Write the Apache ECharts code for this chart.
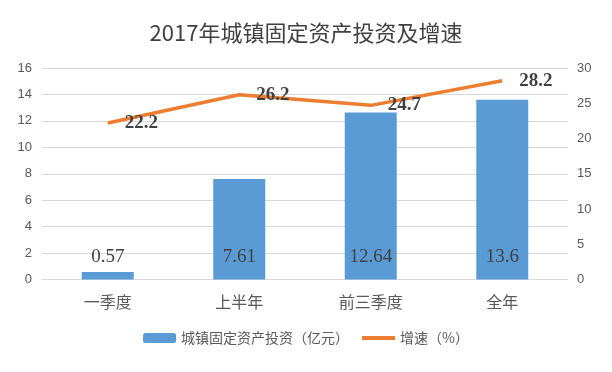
<!DOCTYPE html>
<html>
<head>
<meta charset="utf-8">
<script src="https://cdn.jsdelivr.net/npm/echarts@6/dist/echarts.min.js"></script>
<style>html,body{margin:0;padding:0;background:#fff}#c{width:612px;height:372px}</style>
</head>
<body>
<div id="c"></div>
<script>
const categories = ['一季度', '上半年', '前三季度', '全年'];
const investment = [0.57, 7.61, 12.64, 13.6];
const growth = [22.2, 26.2, 24.7, 28.2];
const leftTicks = [0, 16, 2];
const rightTicks = [0, 30, 5];
const seriesNames = ['城镇固定资产投资（亿元）', '增速（%）'];

const chart = echarts.init(document.getElementById('c'), null, {renderer: 'canvas'});
const axisText = {color: '#595959', fontFamily: 'Liberation Sans, Arial, sans-serif'};
chart.setOption({
  animation: false,
  backgroundColor: '#fff',
  title: {
    text: '2017年城镇固定资产投资及增速',
    left: 'center', top: 17,
    textStyle: {fontSize: 22, fontWeight: 'normal', color: '#404040', fontFamily: 'Noto Sans CJK SC, sans-serif'}
  },
  grid: {left: 42, right: 44, top: 68, bottom: 92.5},
  legend: {
    bottom: 22, left: 'center', itemGap: 11, itemWidth: 33, itemHeight: 10,
    textStyle: {fontSize: 14, color: '#595959', fontFamily: 'Noto Sans CJK SC, sans-serif'},
    data: [
      {name: seriesNames[0]},
      {name: seriesNames[1], itemStyle: {opacity: 0}, lineStyle: {width: 4, color: '#ED7D31'}}
    ]
  },
  xAxis: {
    type: 'category', data: categories,
    axisLine: {show: true, lineStyle: {color: '#d9d9d9'}},
    axisTick: {show: false},
    axisLabel: {margin: 14, fontSize: 16, color: '#595959', fontFamily: 'Noto Sans CJK SC, sans-serif'}
  },
  yAxis: [
    {type: 'value', min: leftTicks[0], max: leftTicks[1], interval: leftTicks[2],
     axisLine: {show: false}, axisTick: {show: false},
     splitLine: {lineStyle: {color: '#d9d9d9', width: 1}},
     axisLabel: Object.assign({fontSize: 13, margin: 10}, axisText)},
    {type: 'value', min: rightTicks[0], max: rightTicks[1], interval: rightTicks[2],
     axisLine: {show: false}, axisTick: {show: false}, splitLine: {show: false},
     axisLabel: Object.assign({fontSize: 13, margin: 9}, axisText)}
  ],
  series: [
    {name: seriesNames[0], type: 'bar', data: investment, barWidth: 52,
     itemStyle: {color: '#5B9BD5'},
     label: {show: true, position: 'insideBottom', distance: 13, fontSize: 19,
             color: '#404040', fontFamily: 'Liberation Serif, Times New Roman, serif'}},
    {name: seriesNames[1], type: 'line', yAxisIndex: 1, data: growth,
     symbol: 'circle', symbolSize: 0, showSymbol: true,
     lineStyle: {color: '#ED7D31', width: 3.5}, itemStyle: {color: '#ED7D31'},
     label: {show: true, position: 'right', distance: 17, fontSize: 19, fontWeight: 'bold',
             color: '#404040', fontFamily: 'Liberation Serif, Times New Roman, serif'}}
  ]
});
</script>
</body>
</html>
